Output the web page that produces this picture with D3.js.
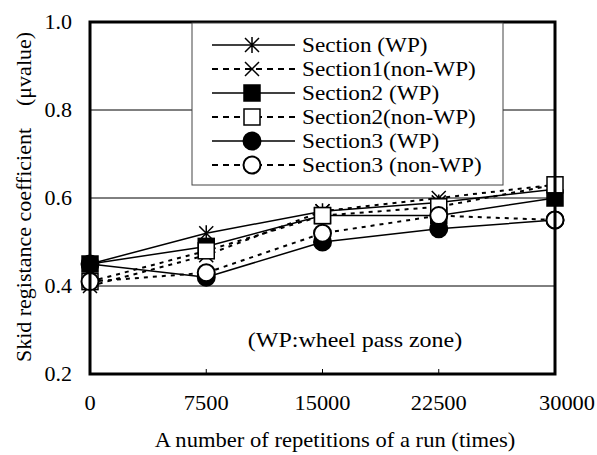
<!DOCTYPE html>
<html>
<head>
<meta charset="utf-8">
<script src="https://cdn.jsdelivr.net/npm/d3@7"></script>
<style>
body { margin: 0; background: #fff; }
text { font-family: "Liberation Serif", "Times New Roman", serif; fill: #000; }
</style>
</head>
<body>
<script>
var repetitions = [0, 7500, 15000, 22500, 30000];
var yTicks = [0.2, 0.4, 0.6, 0.8, 1.0];

var seriesNames = ["Section (WP)", "Section1(non-WP)", "Section2 (WP)", "Section2(non-WP)", "Section3 (WP)", "Section3 (non-WP)"];
var sectionWP = [0.45, 0.52, 0.57, 0.59, 0.62];
var section1NonWP = [0.40, 0.47, 0.57, 0.60, 0.63];
var section2WP = [0.45, 0.49, 0.56, 0.56, 0.60];
var section2NonWP = [0.41, 0.48, 0.56, 0.58, 0.63];
var section3WP = [0.45, 0.42, 0.50, 0.53, 0.55];
var section3NonWP = [0.41, 0.43, 0.52, 0.56, 0.55];

var seriesValues = [sectionWP, section1NonWP, section2WP, section2NonWP, section3WP, section3NonWP];
var markers = ["asterisk", "cross", "squareFill", "squareOpen", "circleFill", "circleOpen"];
var dashed = [false, true, false, true, false, true];

var width = 597, height = 455;
var margin = { left: 90, right: 42, top: 22, bottom: 81 };
var stretch = 1.15; // text in the picture is a bit wider than normal

var svg = d3.select("body").append("svg")
    .attr("width", width)
    .attr("height", height);

var x = d3.scaleLinear().domain([0, 30000]).range([margin.left, width - margin.right]);
var y = d3.scaleLinear().domain([0.2, 1.0]).range([height - margin.bottom, margin.top]);

// places a horizontally widened text
function addText(parent, str, tx, ty, anchor, size, sx) {
    return parent.append("text")
        .text(str)
        .attr("transform", "translate(" + tx + "," + ty + ") scale(" + (sx || stretch) + ",1)")
        .attr("text-anchor", anchor)
        .attr("font-size", size + "px");
}

// grid lines
svg.selectAll("line.grid")
    .data(yTicks.filter(d => d > 0.2 && d < 1.0))
    .enter()
    .append("line")
    .attr("x1", x(0))
    .attr("x2", x(30000))
    .attr("y1", d => y(d))
    .attr("y2", d => y(d))
    .attr("stroke", "#000")
    .attr("stroke-width", 1);

// y tick labels
yTicks.forEach(function (d) {
    addText(svg, d.toFixed(1), x(0) - 18, y(d) + 7, "end", 20, 1.1);
});

// x ticks (inside)
svg.selectAll("line.xtick")
    .data(repetitions.slice(1, 4))
    .enter()
    .append("line")
    .attr("x1", d => x(d))
    .attr("x2", d => x(d))
    .attr("y1", y(0.2))
    .attr("y2", y(0.2) - 5)
    .attr("stroke", "#000")
    .attr("stroke-width", 1);

repetitions.forEach(function (d) {
    addText(svg, d, x(d) + (d === 30000 ? 12 : 0), y(0.2) + 36, "middle", 20, 1.12);
});

// axis titles
addText(svg, "A number of repetitions of a run (times)", 335, 447, "middle", 20, 1.13);

svg.append("text")
    .text("Skid registance coefficient\u2003(\u03bcvalue)")
    .attr("transform", "translate(31,197) rotate(-90) scale(1.1,1)")
    .attr("text-anchor", "middle")
    .attr("font-size", "20px");

// annotation
addText(svg, "(WP:wheel pass zone)", 355, 347, "middle", 20, 1.2);

function drawMarker(g, type, cx, cy) {
    if (type === "asterisk") {
        var s = 7;
        g.append("path")
            .attr("d", "M" + (cx - s) + "," + (cy - s) + "L" + (cx + s) + "," + (cy + s) +
                "M" + (cx + s) + "," + (cy - s) + "L" + (cx - s) + "," + (cy + s) +
                "M" + cx + "," + (cy - s - 1) + "L" + cx + "," + (cy + s + 1))
            .attr("stroke", "#000").attr("stroke-width", 1.5).attr("fill", "none");
    } else if (type === "cross") {
        var s2 = 7;
        g.append("path")
            .attr("d", "M" + (cx - s2) + "," + (cy - s2) + "L" + (cx + s2) + "," + (cy + s2) +
                "M" + (cx + s2) + "," + (cy - s2) + "L" + (cx - s2) + "," + (cy + s2))
            .attr("stroke", "#000").attr("stroke-width", 1.5).attr("fill", "none");
    } else if (type === "squareFill" || type === "squareOpen") {
        g.append("rect")
            .attr("x", cx - 8).attr("y", cy - 8)
            .attr("width", 16).attr("height", 16)
            .attr("fill", type === "squareFill" ? "#000" : "#fff")
            .attr("stroke", "#000").attr("stroke-width", 1.5);
    } else {
        g.append("circle")
            .attr("cx", cx).attr("cy", cy).attr("r", 8.5)
            .attr("fill", type === "circleFill" ? "#000" : "#fff")
            .attr("stroke", "#000").attr("stroke-width", 2);
    }
}

var line = d3.line()
    .x((d, i) => x(repetitions[i]))
    .y(d => y(d));

// lines first, then markers per series
seriesValues.forEach(function (vals, k) {
    svg.append("path")
        .datum(vals)
        .attr("d", line)
        .attr("fill", "none")
        .attr("stroke", "#000")
        .attr("stroke-width", dashed[k] ? 2 : 1.5)
        .attr("stroke-dasharray", dashed[k] ? "4,5" : null);
});

seriesValues.forEach(function (vals, k) {
    var g = svg.append("g");
    vals.forEach(function (v, i) {
        drawMarker(g, markers[k], x(repetitions[i]), y(v));
    });
});

// plot border
svg.append("rect")
    .attr("x", x(0))
    .attr("y", y(1.0))
    .attr("width", x(30000) - x(0))
    .attr("height", y(0.2) - y(1.0))
    .attr("fill", "none")
    .attr("stroke", "#000")
    .attr("stroke-width", 3);

// legend
var legend = svg.append("g");
legend.append("rect")
    .attr("x", 192)
    .attr("y", 23)
    .attr("width", 311)
    .attr("height", 162)
    .attr("fill", "#fff")
    .attr("stroke", "#444")
    .attr("stroke-width", 1);

seriesNames.forEach(function (name, k) {
    var ly = 45 + k * 24;
    legend.append("line")
        .attr("x1", 212).attr("x2", 295)
        .attr("y1", ly).attr("y2", ly)
        .attr("stroke", "#000")
        .attr("stroke-width", dashed[k] ? 2 : 1.5)
        .attr("stroke-dasharray", dashed[k] ? "6,5" : null);
    drawMarker(legend, markers[k], 252, ly);
    addText(legend, name, 302, ly + 7, "start", 20, 1.16);
});
</script>
</body>
</html>
